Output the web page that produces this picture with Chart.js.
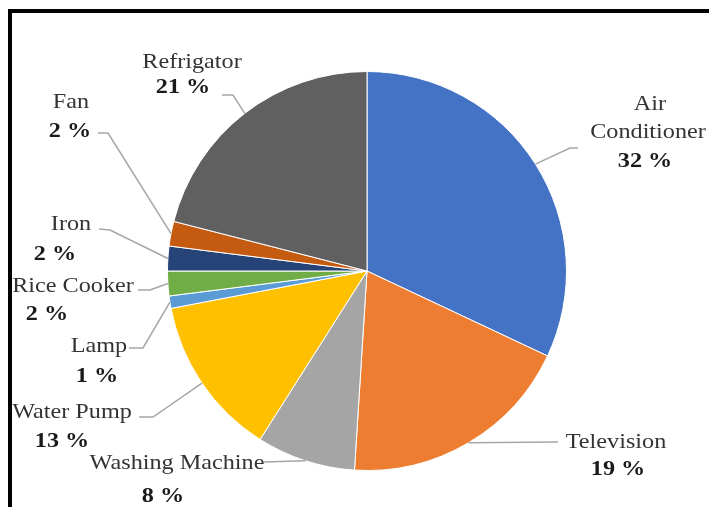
<!DOCTYPE html>
<html>
<head>
<meta charset="utf-8">
<script src="https://cdn.jsdelivr.net/npm/chart.js@4.4.1/dist/chart.umd.min.js"></script>
<style>
html,body{margin:0;padding:0;background:#fff;}
#wrap{position:relative;width:709px;height:507px;}
</style>
</head>
<body>
<div id="wrap"><canvas id="c" width="709" height="507"></canvas></div>
<script>
// ---- data ----
const categories = ['Air Conditioner','Television','Washing Machine','Water Pump','Lamp','Rice Cooker','Iron','Fan','Refrigator'];
const shares = [32, 19, 8, 13, 1, 2, 2, 2, 21];
const sliceColors = ['#4472C4','#ED7D31','#A5A5A5','#FFC000','#5B9BD5','#70AD47','#264478','#C55A11','#606060'];

// ---- label layout (text positions and leader-line bends, in pixels) ----
const labelLayout = [
  {wrap:true, name:[[650,110],[648,138]], pct:[645,167], path:[[570,148],[578,148]]},
  {name:[[616,448]], pct:[618,475], path:[[558,442]]},
  {name:[[177,469]], pct:[163,502], path:[[264,462]]},
  {name:[[72,418]], pct:[62,447], path:[[153,417],[139,417]]},
  {name:[[99,352]], pct:[97,382], path:[[143,348],[129,348]]},
  {name:[[73,292]], pct:[47,320], path:[[150,290],[138,290]]},
  {name:[[71,230]], pct:[55,260], path:[[110,230],[99,229]]},
  {name:[[71,108]], pct:[70,137], path:[[108,133],[98,133]]},
  {name:[[192,68]], pct:[183,93], path:[[233,95],[222,95]]}
];

function drawText(ctx, txt, x, y){
  ctx.save();
  ctx.translate(x, y);
  ctx.scale(1.1, 1);
  ctx.fillText(txt, 0, 0);
  ctx.restore();
}

const decor = {
  id:'decor',
  afterDraw(chart){
    const ctx = chart.ctx;
    ctx.save();
    // frame
    ctx.fillStyle = '#000';
    ctx.fillRect(8, 9, 701, 4);
    ctx.fillRect(8, 9, 4, 498);
    const meta = chart.getDatasetMeta(0);
    meta.data.forEach((arc, i) => {
      const L = labelLayout[i];
      const mid = (arc.startAngle + arc.endAngle) / 2;
      const ex = arc.x + Math.cos(mid) * arc.outerRadius;
      const ey = arc.y + Math.sin(mid) * arc.outerRadius;
      ctx.strokeStyle = '#a6a6a6';
      ctx.lineWidth = 1.5;
      ctx.beginPath();
      ctx.moveTo(ex, ey);
      L.path.forEach(p => ctx.lineTo(p[0], p[1]));
      ctx.stroke();
      // text
      ctx.textAlign = 'center';
      ctx.textBaseline = 'alphabetic';
      ctx.fillStyle = '#333333';
      ctx.font = '22px "Liberation Serif", "Times New Roman", serif';
      const lines = L.wrap ? categories[i].split(' ') : [categories[i]];
      lines.forEach((t, k) => drawText(ctx, t, L.name[k][0], L.name[k][1]));
      ctx.fillStyle = '#1a1a1a';
      ctx.font = 'bold 22px "Liberation Serif", "Times New Roman", serif';
      drawText(ctx, shares[i] + ' %', L.pct[0], L.pct[1]);
    });
    ctx.restore();
  }
};

new Chart(document.getElementById('c'), {
  type: 'pie',
  data: {
    labels: categories,
    datasets: [{
      data: shares,
      backgroundColor: sliceColors,
      borderColor: '#ffffff',
      borderWidth: 1
    }]
  },
  options: {
    responsive: false,
    devicePixelRatio: 1,
    animation: false,
    layout: {padding: {left: 167, right: 142, top: 71, bottom: 36}},
    plugins: {legend: {display: false}, tooltip: {enabled: false}}
  },
  plugins: [decor]
});
</script>
</body>
</html>
